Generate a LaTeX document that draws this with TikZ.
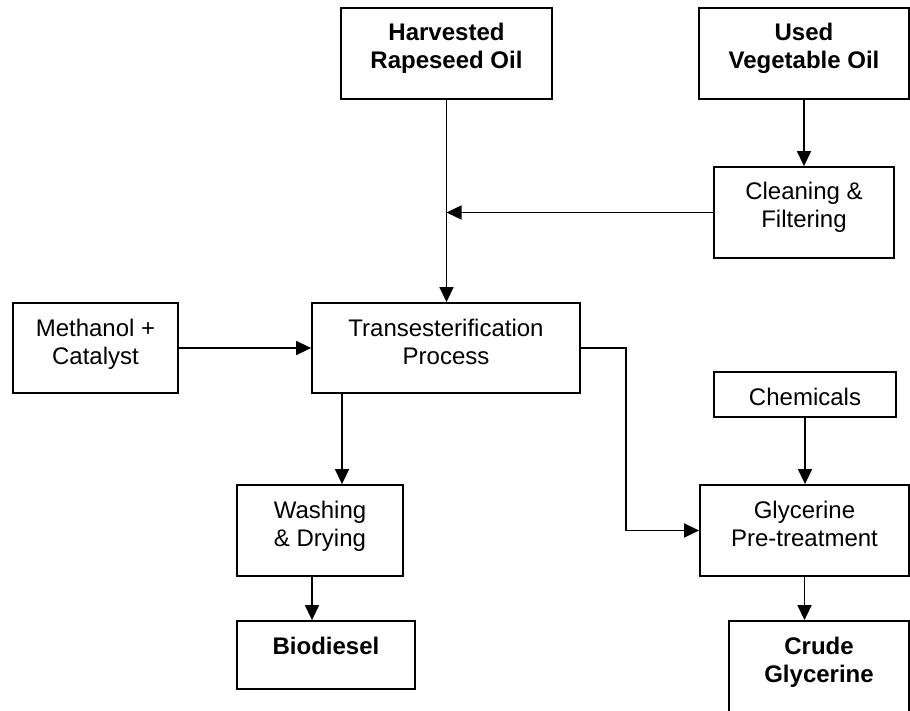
\documentclass[tikz,border=0pt]{standalone}
\usepackage{fontspec}
\setmainfont{Liberation Sans}
\usetikzlibrary{arrows.meta}
\newcommand{\bxt}[3]{\parbox[c][#2][t]{#1}{\centering\rule{0pt}{33pt}#3\par}}
\begin{document}
\begin{tikzpicture}[x=1pt,y=-1pt,
  box/.style={draw, line width=1.8pt, inner sep=0pt, font=\fontsize{24}{28}\selectfont},
  conn/.style={line width=1.5pt},
  arr/.style={conn, -{Triangle[length=15pt,width=14pt]}}]
\useasboundingbox (0,0) rectangle (910,711);
\clip (0,0) rectangle (910,711);
\node[box] (harv)  at (446.5,53.5) {\bxt{211pt}{91pt}{\bfseries Harvested\\Rapeseed Oil}};
\node[box] (used)  at (804,53.5)   {\bxt{210pt}{91pt}{\bfseries Used\\Vegetable Oil}};
\node[box] (clean) at (804,212.5)  {\bxt{180pt}{91pt}{Cleaning \&\\Filtering}};
\node[box] (meth)  at (95.5,348)   {\bxt{165pt}{90pt}{Methanol +\\Catalyst}};
\node[box] (trans) at (446,348)    {\bxt{268pt}{90pt}{Transesterification\\Process}};
\node[box] (chem)  at (805,394.5)  {\bxt{182pt}{45pt}{Chemicals}};
\node[box] (wash)  at (320,530.5)  {\bxt{166pt}{91pt}{Washing\\\& Drying}};
\node[box] (glyc)  at (804.5,530.5){\bxt{209pt}{91pt}{Glycerine\\Pre-treatment}};
\node[box] (bio)   at (326,655)    {\bxt{178pt}{68pt}{\bfseries Biodiesel}};
\node[box] (crude) at (819,680.5)  {\bxt{180pt}{119pt}{\bfseries Crude\\Glycerine}};
\draw[arr] (harv.south) -- (harv.south |- trans.north);
\draw[arr] (used.south) -- (used.south |- clean.north);
\draw[arr] (clean.west) -- (clean.west -| harv.south);
\draw[arr] (meth.east) -- (meth.east -| trans.west);
\draw[arr] (trans.east) -- ++(45,0) |- (glyc.west);
\draw[arr] ([xshift=-104pt]trans.south) -- ([xshift=-104pt]trans.south |- wash.north);
\draw[arr] (chem.south) -- (chem.south |- glyc.north);
\draw[arr] ([xshift=-8pt]wash.south) -- ([xshift=-8pt]wash.south |- bio.north);
\draw[arr] (glyc.south) -- (glyc.south |- crude.north);
\end{tikzpicture}
\end{document}
